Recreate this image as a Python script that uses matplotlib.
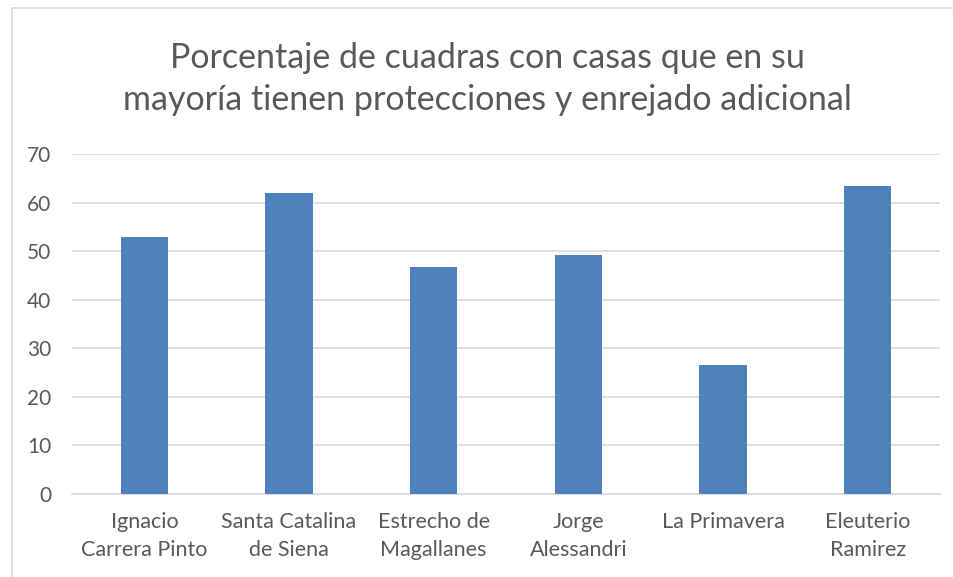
import matplotlib
matplotlib.use("Agg")
import matplotlib.pyplot as plt
from matplotlib.patches import Rectangle

categorias = ["Ignacio\nCarrera Pinto", "Santa Catalina\nde Siena", "Estrecho de\nMagallanes",
              "Jorge\nAlessandri", "La Primavera", "Eleuterio\nRamirez"]
porcentajes = [52.9, 61.9, 46.8, 49.3, 26.6, 63.4]
titulo = "Porcentaje de cuadras con casas que en su\nmayoría tienen protecciones y enrejado adicional"

plt.rcParams['font.family'] = ['Lato', 'DejaVu Sans']
gris = "#595959"

fig = plt.figure(figsize=(9.54, 5.77), dpi=100)
# borde del area del grafico
fig.patches.append(Rectangle((12 / 954, -0.1), 1.1, 1.1 - 8 / 577, transform=fig.transFigure,
                             fill=False, edgecolor="#d9d9d9", linewidth=1.2))

ax = fig.add_axes([72 / 954, 83 / 577, 868 / 954, 340 / 577])
x = range(len(categorias))
ax.bar(x, porcentajes, width=0.325, color="#4f81bd", zorder=3)
ax.set_xlim(-0.5, len(categorias) - 0.5)
ax.set_ylim(0, 70)
ax.set_yticks(range(0, 71, 10))
ax.set_xticks(list(x))
ax.set_xticklabels(categorias, fontsize=15.5, color=gris, linespacing=1.5)
ax.tick_params(axis="y", labelsize=15, labelcolor=gris, length=0, pad=15)
ax.tick_params(axis="x", length=0, pad=13)
ax.grid(axis="y", color="#d9d9d9", linewidth=1.2, zorder=0)
for s in ["top", "right", "left"]:
    ax.spines[s].set_visible(False)
ax.spines["bottom"].set_color("#d9d9d9")
ax.spines["bottom"].set_linewidth(1.2)

fig.text(487 / 954, 1 - 79 / 577, titulo, ha="center", va="center", fontsize=24.5,
         color=gris, linespacing=1.4)

fig.savefig("out.png", dpi=100)
